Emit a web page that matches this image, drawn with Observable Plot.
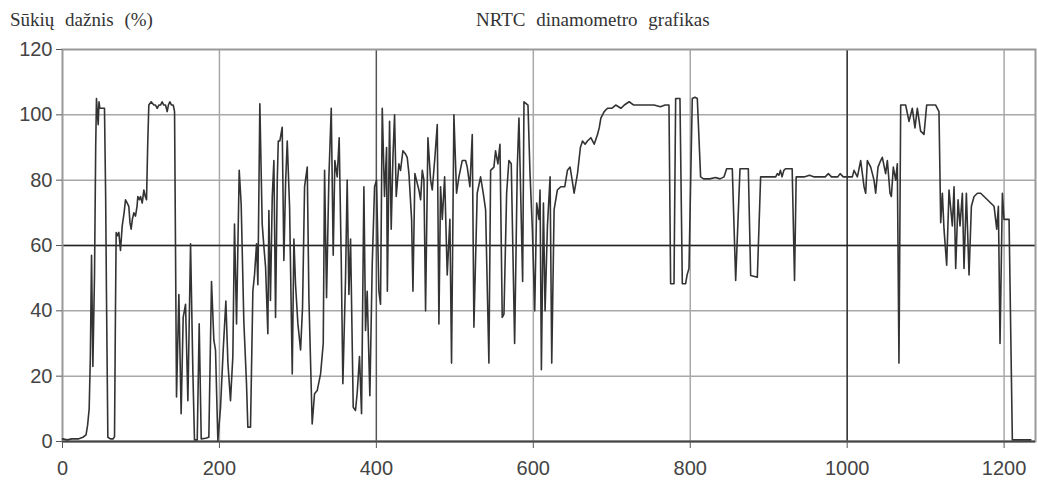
<!DOCTYPE html>
<html>
<head>
<meta charset="utf-8">
<script src="https://cdn.jsdelivr.net/npm/d3@7"></script>
<script src="https://cdn.jsdelivr.net/npm/@observablehq/plot@0.6"></script>
<style>
  html, body { margin: 0; padding: 0; background: #fff; }
  #wrap { width: 1038px; height: 486px; position: relative; }
  #head { position: relative; height: 36px; }
  .ttl { position: absolute; top: 10px; font-family: "Liberation Serif", "DejaVu Serif", serif; font-size: 19px; line-height: 19px; color: #333; word-spacing: 6px; white-space: nowrap; }
</style>
</head>
<body>
<div id="wrap">
  <div id="head">
    <span class="ttl" style="left:10px">Sūkių dažnis (%)</span>
    <span class="ttl" style="left:476px">NRTC dinamometro grafikas</span>
  </div>
  <div id="chart"></div>
</div>
<script>
const xTicks = [0, 200, 400, 600, 800, 1000, 1200];
const yTicks = [0, 20, 40, 60, 80, 100, 120];

const time = [
  0,6,12,20,26,30,32,34,35.5,37,38.7,40.8,42.3,43.3,44.3,45.5,46.5,47.6,50.6,53.5,55,56,57.8,61,64.6,66.3,67.5,68.4,70,71.8,73.9,76.1,78.5,80.3,82.5,84.5,86,87.5,89,90.9,93,95,96,98,99.4,101.6,103.7,105.5,107.1,108.5,110,113,116.4,118.5,120.7,122.8,124.9,127,129,131.3,133.4,135,136.8,139,141.1,142.8,144,
  145.3,148.3,151.2,153.8,156.8,159.8,163.2,166.2,168.2,171.7,174.2,176.8,182.3,186.5,189.9,192.9,195,198,201.4,204.8,208.2,210.8,214.1,217.1,219.2,221.8,225.2,227.7,231.1,234.5,236.2,239.6,242.6,244.7,247.3,249,251.5,254.5,256.7,258.8,261.7,263,265,267.3,269.4,271.5,273.7,275,277,280,282.1,284.3,286.4,289.4,292.8,294.9,297,300,303.4,305.9,308.5,311.9,314,318.2,321.2,324.6,328.9,332.3,334,336.5,339.5,342.5,345,347.1,350.1,352.6,355.2,357.3,360.7,362.8,365,367.1,370.5,373.4,375.6,378.5,381.1,384.1,386.2,388.3,391.7,394.7,397.7,400.2,403.2,405.3,407.5,410.4,413,414,416.8,418.9,421.1,423.2,425.3,428.7,430.8,433.8,437.2,439.3,441.5,444.9,446.6,449.1,452.1,454.2,456.4,458.5,460.6,462.7,465.7,469.1,471.2,474.6,477.6,479.7,481.8,484,487,490.3,493.7,495.8,498.8,502.2,505.2,509.4,513.7,515.8,519.2,522.2,524.3,528.5,532.8,536.2,539.2,543.4,545.6,549.8,551.9,554.9,557.5,560.4,562.6,566,568.9,571.9,576.2,579.6,581.7,583.8,586.4,588.1,593.2,595.8,598.8,601.8,604.3,607.3,608.6,610.3,612.9,615,618,621.4,623.5,626.5,630.7,635,640.1,643.5,646.9,649.5,652,656.3,660,662.7,666,669,673.3,677.6,681.8,684,686.1,690.3,694.6,700,705,711.6,716,722.2,728,737,745,753.8,762,768,772.9,775,779.3,781.4,786.9,789.9,794.1,796,798.4,802.6,806,809,813.2,817,825,832,838,843,846.4,853.6,857.9,863.4,874,877,885.5,889.7,895,902,908.9,911,913,915,917,919.3,921.4,929.9,932.9,935,945,952,958,966,972,976,980,988,991,995,1000,1006.6,1008.7,1013,1017.2,1021.5,1023.6,1025.7,1030,1034.2,1036.3,1039.3,1042.7,1044.8,1049,1051.2,1054.6,1056.3,1058.8,1061.8,1063.9,1066,1068.2,1074.5,1078.8,1083,1086.4,1089.4,1093.6,1097.9,1101.3,1112.8,1117,1119.2,1121.3,1123.4,1126.8,1129.8,1134,1136.2,1138.3,1141.3,1143.8,1146.8,1148.9,1151.9,1155.3,1158.3,1161.7,1166,1170.2,1174.4,1178.7,1182.9,1187.2,1190.6,1192.7,1194.8,1197.8,1199.9,1206.3,1210.5,1220,1234
];
const speed = [
  0.8,0.5,0.8,0.8,1.3,2,5,10,26,57,23,51,90,105,101,97,104,102,102,102,75,46,1.3,0.8,0.8,1.5,40,64,63,64,58.5,66,70,74,73,72,67,65,68,70,69,72,75,74,75,73,77,75,74,90,103,104,103,103,102,103,103,104,103,103,101,103,104,103,103,101,60,
  13.6,45,8.5,38,42,12.5,60.5,20.7,0.5,0.5,36,0.8,1,1.3,49,31,28,0.3,10.5,28,43,24,12.5,26,66.6,36,83,72.7,36.7,17.7,4.4,4.4,46,51,60.5,48,103.4,66.6,59.5,53.4,33,70.7,43.2,74.8,86,38,80,92,92,96.2,55.4,79,92,71.7,20.7,62,48,36,28,41,78,84,44,5.4,14.6,15.6,20.7,30,83,44,81,102,57,86,81,93,56,17.7,50,80,45,62,10.5,9.5,15,26,8.5,78,34,46,14,54,78,80,46,42,102,75,90,46,98,65,87,100,75,85,83,89,88,87,82,68,46,82,79,77,74,83,80,40,93,80,77,87,97,36,78,68,81,51,68,24,100,76,81,86,86,84,78,94,35,76,81,76,71,24,83,84,89,85,91,38,39,76,86,85,30,84,99,77,49,104,103,82,65,40,73,68,77,22,73,40,66,81,24,71,77,78,78,83,84,80,76,82,90,92,91,92,93,91,94,96,99,101,102,102,103,102,103,104,103,103,103,103,102.5,103,103,48.3,48.3,105,105,48.3,48.3,51,53,105,105.4,105,81,80.4,80.4,80.8,80.4,81,83.5,83.5,49.3,83.5,83.5,50.8,50.3,81,81,81,81,82,81.5,83,81,83,83.5,83.5,49.3,81,81,81.5,81,81,81,82,81,81,82,81,81,81,83,81,86,78,76,86,84,80,76,84,86,87,82,86,76,75,84,80,85,24,103,103,98,102,96,102,95,94,103,103,101,67,76,65,54,77,66,78,53,74,66,76,53,76,51,72,75,76,76,75,74,73,72,65,72,30,76,68,68,0.5,0.5,0.5
];

const rows = time.map((t, i) => ({time: t, speed: speed[i]}));

const chart = Plot.plot({
  width: 1038,
  height: 450,
  marginLeft: 62,
  marginRight: 3,
  marginTop: 13,
  marginBottom: 45,
  style: {fontFamily: "'Liberation Sans', Arial, sans-serif", fontSize: "20px", color: "#444", background: "#fff"},
  x: {domain: [0, 1240], label: null},
  y: {domain: [0, 120], label: null},
  marks: [
    Plot.gridX(xTicks.filter(d => d > 0), {stroke: "#a8a8a8", strokeOpacity: 1, strokeWidth: 1.5}),
    Plot.gridY(yTicks.filter(d => d > 0 && d < 120), {stroke: "#a8a8a8", strokeOpacity: 1, strokeWidth: 1.5}),
    Plot.ruleX([1000], {stroke: "#222", strokeWidth: 1.3}),
    Plot.ruleX([400], {stroke: "#555", strokeWidth: 1.3}),
    Plot.ruleY([60], {stroke: "#222", strokeWidth: 1.3}),
    Plot.frame({stroke: "#999", strokeWidth: 2}),
    Plot.ruleY([0], {stroke: "#444", strokeWidth: 2}),
    Plot.axisX({ticks: xTicks, tickFormat: d => String(d), tickSize: 7, tickPadding: 12, stroke: "#555", fill: "#444", label: null}),
    Plot.axisY({ticks: yTicks, tickFormat: d => String(d), tickSize: 6, tickPadding: 4, stroke: "#555", fill: "#444", label: null}),
    Plot.line(rows, {x: "time", y: "speed", stroke: "#333", strokeWidth: 1.6, curve: "linear"})
  ]
});
document.getElementById("chart").appendChild(chart);
</script>
</body>
</html>
